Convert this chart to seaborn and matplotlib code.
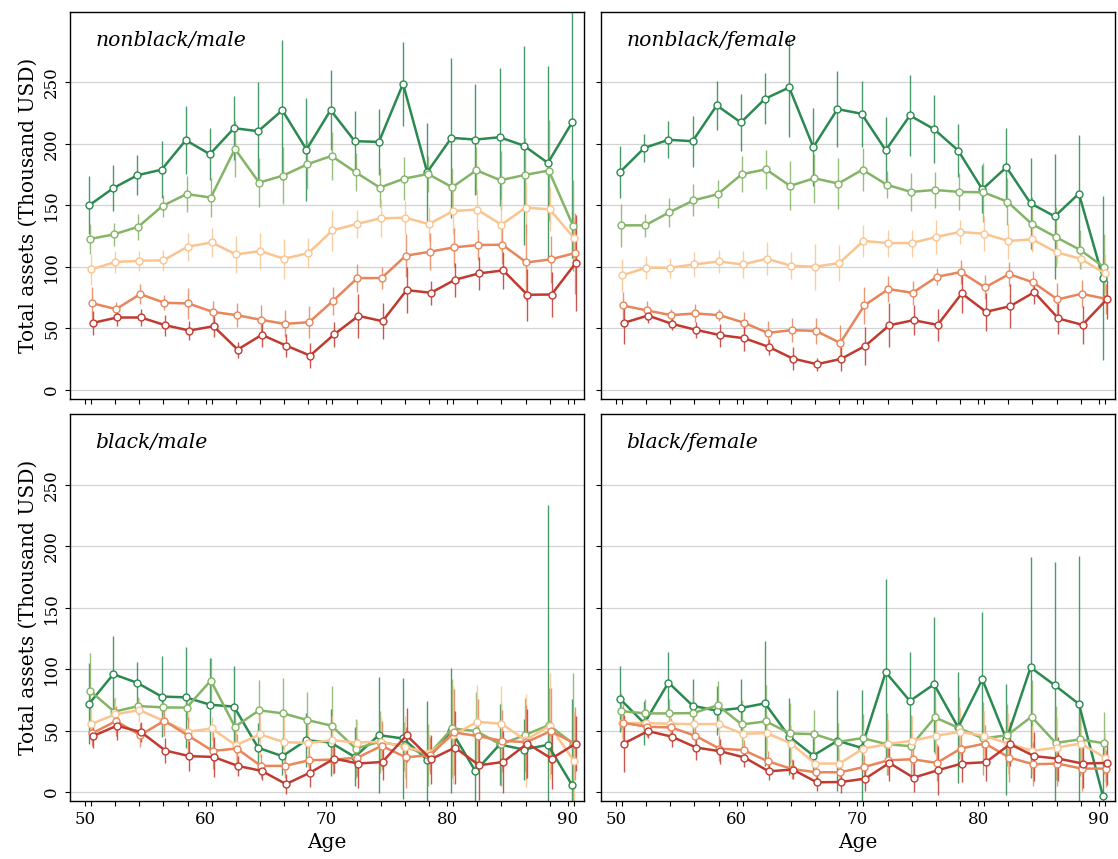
import numpy as np
import pandas as pd
import matplotlib
matplotlib.use("Agg")
import matplotlib.pyplot as plt
import seaborn as sns

# age groups (bin centres) and small dodge per group
ages = np.arange(50.5, 91, 2.0)
groups = ["g1", "g2", "g3", "g4", "g5"]
colors = ["#2b8a50", "#84b466", "#fbc48e", "#e8855a", "#c13a30"]
offsets = [-0.15, -0.075, 0.0, 0.075, 0.15]
panels = ["nonblack/male", "nonblack/female", "black/male", "black/female"]

# ---- nonblack / male
nbm_g1 = [150, 164, 174.5, 179, 203, 191.6, 212.8, 210.3, 227.4, 195.4, 227.5, 202.2, 201.6, 248.9, 176.9, 204.9, 203.5, 205.4, 198.6, 184.5, 217.4]
nbm_g2 = [122.6, 126.4, 132.6, 149.5, 159.2, 156.3, 195.9, 168.5, 174.2, 183.4, 190.2, 176.9, 164.4, 171.7, 175.5, 164.7, 178.5, 170.4, 174.7, 178.3, 133.4]
nbm_g3 = [97.8, 103.8, 104.9, 105.2, 116.3, 119.8, 110, 112.8, 106.5, 111.1, 129.6, 134.8, 139.4, 139.9, 134.8, 145.4, 146.5, 134.2, 148.1, 146.7, 123.4]
nbm_g4 = [70.4, 65.5, 77.7, 70.7, 70.1, 63.3, 60.6, 56.8, 53.5, 54.9, 72.5, 90.8, 90.8, 109, 112.2, 115.8, 117.7, 117.9, 103.5, 106, 111.1]
nbm_g5 = [54.3, 58.7, 58.7, 52.4, 48.1, 51.6, 32.6, 44.6, 35.9, 27.7, 45, 60, 55.7, 81, 78.8, 89.4, 94.6, 97, 77.2, 77.4, 103]
nbm_e1 = [23.6, 18.8, 16.3, 23, 27.7, 21, 26, 40, 57, 42, 32.3, 24.5, 26.6, 34, 40, 65, 45, 56, 81, 79, 110]
nbm_e2 = [12.5, 9.5, 10.6, 8.7, 14.7, 16, 22.5, 19.6, 23, 20, 19.6, 15.6, 16, 17.7, 15, 16, 19, 24, 30, 41, 37]
nbm_e3 = [12.8, 8.7, 8, 8.7, 11.4, 11.7, 14.7, 14.4, 16.3, 12.5, 16.6, 11, 15.4, 13.5, 14, 19, 17, 21, 21, 18, 17]
nbm_e4 = [13, 5.7, 8.4, 6, 12.8, 9.2, 10, 12.2, 11, 12.8, 11.4, 11.7, 9, 17.6, 15, 16, 12, 16, 31, 19, 33]
nbm_e5 = [10, 7, 7, 8.7, 8, 8.7, 6.5, 10.3, 9, 10.3, 10, 18, 14.5, 19, 10, 14, 13.6, 15, 21, 18.6, 39]

# ---- nonblack / female
nbf_g1 = [177.2, 196.7, 203.3, 202.2, 231.3, 217.4, 236.7, 245.9, 197.3, 228.3, 224.5, 194.8, 223.1, 212, 194.6, 163, 181, 151.6, 141, 159.5, 90.8]
nbf_g2 = [133.7, 133.7, 144.3, 154, 159, 175.3, 179.3, 165.8, 172, 167.7, 179, 166.8, 160.9, 162.5, 160.9, 160.6, 153, 135, 124.2, 113.9, 99.7]
nbf_g3 = [92.9, 99.2, 99.2, 101.9, 104.3, 101.9, 106.5, 100.8, 100, 103, 121, 119.3, 119.3, 124.2, 128.3, 126.9, 121, 122.3, 111.7, 106.5, 94.6]
nbf_g4 = [68.5, 64.4, 60.6, 62, 60.6, 54.6, 46.2, 48.4, 47.8, 38, 68.5, 81.8, 78.8, 91.8, 95.7, 83.2, 94, 87.2, 73.4, 78, 73.9]
nbf_g5 = [54.3, 60.3, 53.5, 48.6, 44.3, 41.8, 34.8, 25.3, 20.7, 25, 35.6, 52.4, 56.5, 52.7, 78.3, 63.3, 67.9, 79.3, 57.9, 52.7, 73.4]
nbf_e1 = [21.3, 11.7, 15.2, 20.7, 19.8, 22.8, 20.7, 40, 31.5, 31, 27, 27, 32.6, 27.7, 21.5, 19.6, 32, 37, 51, 48, 67]
nbf_e2 = [17.4, 9.2, 12, 13, 11.4, 14.7, 16, 20, 20, 21, 17.6, 11, 15.8, 15, 15, 24, 19, 21.7, 24.5, 16, 27]
nbf_e3 = [13.6, 9.2, 8.2, 10, 9.5, 11, 13.3, 11, 18.8, 14.4, 12.8, 11, 11, 13.6, 9.5, 14, 14.7, 10, 8.4, 8, 15.8]
nbf_e4 = [10.9, 7.6, 5, 7.3, 5, 8.4, 10, 10, 10.6, 14.7, 15, 10.3, 10, 7, 9.5, 9.8, 10, 9.5, 13, 11, 12]
nbf_e5 = [17, 6, 5, 6.8, 9.5, 10.6, 6.5, 9.2, 5.4, 9.5, 15.5, 17.7, 12, 13, 16, 15.5, 18, 10, 12.8, 15.5, 16]

# ---- black / male
bm_g1 = [71.9, 95.9, 88.8, 77.7, 77.1, 71.1, 69.5, 36, 29.2, 42.2, 40.3, 28.6, 46.3, 43.6, 26.4, 50, 16.9, 38.7, 34.6, 38.4, 5.7]
bm_g2 = [82.3, 65.4, 70, 68.9, 68.7, 90.7, 53.1, 66.5, 64, 58.6, 54, 35.4, 40.9, 37.3, 30, 51.8, 49.6, 38.7, 46.3, 54.5, 39.5]
bm_g3 = [55.3, 63.2, 66.8, 58, 49, 51.8, 38.1, 46.9, 40.6, 40, 42.2, 40.3, 40.9, 36.8, 31.9, 46.3, 57.2, 55.6, 42.2, 54, 25.3]
bm_g4 = [47.7, 57.8, 46.3, 58, 45.8, 33.5, 35.4, 21.3, 21.3, 25.9, 26.4, 28, 37.6, 28.3, 30, 48.5, 45.5, 41.7, 40.6, 49.6, 39.5]
bm_g5 = [45.5, 54, 48.8, 33.8, 29.2, 28.6, 21.3, 17.2, 6.5, 15.8, 27.2, 23.2, 24.5, 46.3, 26.7, 36.2, 21.8, 24.5, 39.5, 27.2, 39.5]
bm_e1 = [33, 31, 17, 33, 41, 38, 33, 20, 15, 22, 27, 24, 47, 49, 48, 51, 35, 33, 25, 195, 70]
bm_e2 = [31, 11, 7.6, 10, 10, 18, 15, 25, 29, 23, 32, 24, 25, 20, 25, 40, 32, 34, 30, 30, 57]
bm_e3 = [14, 14.4, 10, 10, 15, 9.5, 15, 18, 25, 20, 20, 18, 20, 25, 15, 40, 30, 31, 38, 43, 40]
bm_e4 = [10, 12, 10, 12, 15, 15, 12, 10, 10, 12, 12, 15, 20, 25, 15, 35, 30, 25, 30, 35, 30]
bm_e5 = [10, 12, 8, 10, 12, 16, 8, 7, 8, 12, 12, 20, 15, 22, 20, 30, 28, 25, 28, 25, 22]

# ---- black / female
bf_g1 = [75.7, 55.9, 89.1, 70.3, 66.2, 68.4, 72.2, 45.2, 29.7, 41.7, 36, 97.5, 74.1, 87.7, 52.6, 91.8, 42.8, 101.4, 86.9, 71.7, -3.5]
bf_g2 = [65.9, 64, 64, 64.3, 70.6, 55, 57.5, 47.7, 47.1, 40.9, 43.9, 39, 37.3, 60.8, 52, 43.6, 46.3, 61.3, 40, 42.8, 39.8]
bf_g3 = [56.1, 56.1, 55.6, 55.3, 55.3, 47.4, 48, 39.5, 23.2, 23.2, 35.4, 39, 41.7, 45.8, 49, 45.8, 39.5, 33.5, 36.2, 39.5, 28.1]
bf_g4 = [56.4, 53.1, 52.6, 45.8, 35.4, 34.1, 25.1, 18.8, 16.1, 16.1, 20.4, 25.9, 26.7, 23.7, 35.4, 39.5, 28.1, 22.6, 23.2, 19.1, 19.1]
bf_g5 = [39.5, 49.6, 45, 36.2, 33.2, 28.1, 16.9, 18.3, 7.9, 8.2, 10.9, 23.7, 11.7, 17.7, 23.2, 24.3, 39, 29.2, 27.2, 23.2, 23.7]
bf_e1 = [27, 18, 24.5, 22, 20, 24, 51, 31, 14, 41, 47, 76, 40, 55, 45, 55, 45, 90, 100, 120, 40]
bf_e2 = [15, 12, 12, 15, 20, 20, 30, 25, 20, 15, 20, 25, 25, 30, 25, 30, 25, 30, 30, 30, 25]
bf_e3 = [12, 10, 10, 10, 12, 12, 15, 15, 10, 12, 15, 20, 20, 20, 20, 20, 25, 20, 25, 25, 20]
bf_e4 = [15, 8, 8, 10, 10, 8, 8, 8, 8, 10, 10, 12, 12, 15, 15, 15, 20, 18, 18, 18, 15]
bf_e5 = [23, 6, 8, 10, 10, 8, 7, 8, 7, 9, 10, 15, 12, 20, 15, 15, 18, 20, 18, 20, 18]

means = [
    [nbm_g1, nbm_g2, nbm_g3, nbm_g4, nbm_g5],
    [nbf_g1, nbf_g2, nbf_g3, nbf_g4, nbf_g5],
    [bm_g1, bm_g2, bm_g3, bm_g4, bm_g5],
    [bf_g1, bf_g2, bf_g3, bf_g4, bf_g5],
]
errs = [
    [nbm_e1, nbm_e2, nbm_e3, nbm_e4, nbm_e5],
    [nbf_e1, nbf_e2, nbf_e3, nbf_e4, nbf_e5],
    [bm_e1, bm_e2, bm_e3, bm_e4, bm_e5],
    [bf_e1, bf_e2, bf_e3, bf_e4, bf_e5],
]

sns.set_style("ticks")
plt.rcParams["font.family"] = ["DejaVu Serif"]
plt.rcParams["text.color"] = "black"
plt.rcParams["axes.labelcolor"] = "black"
plt.rcParams["xtick.color"] = "black"
plt.rcParams["ytick.color"] = "black"
plt.rcParams["axes.edgecolor"] = "black"

fig, axes = plt.subplots(2, 2, figsize=(11.18, 8.59), dpi=100, sharex=True, sharey=True)
fig.subplots_adjust(left=0.0626, right=0.9973, top=0.986, bottom=0.0675, wspace=0.033, hspace=0.041)

for k, ax in enumerate(axes.flat):
    rows = []
    for g, name in enumerate(groups):
        x = ages + offsets[g]
        m = np.array(means[k][g])
        e = np.array(errs[k][g])
        ax.vlines(x, m - e, m + e, color=colors[g], lw=1.0, alpha=0.85, zorder=2)
        rows.append(pd.DataFrame({"age": x, "assets": m, "group": name}))
    df = pd.concat(rows)
    sns.lineplot(data=df, x="age", y="assets", hue="group", palette=colors,
                 marker="o", markersize=5, markerfacecolor="white",
                 markeredgewidth=1.0, lw=1.8, errorbar=None, legend=False,
                 ax=ax, zorder=3)
    # markers edges take line colour
    for line, c in zip(ax.get_lines(), colors):
        line.set_markeredgecolor(c)
    ax.set_xlim(48.76, 91.34)
    ax.set_ylim(-7.3, 307.3)
    ax.set_xticks([50, 60, 70, 80, 90])
    ax.set_xticks(ages, minor=True)
    ax.tick_params(axis="x", which="minor", length=3.5, width=0.8)
    ax.tick_params(axis="both", which="major", length=3.5, width=0.8, labelsize=12)
    ax.set_yticks([0, 50, 100, 150, 200, 250])
    for lab in ax.get_yticklabels():
        lab.set_rotation(90)
        lab.set_va("center")
    ax.yaxis.grid(True, color="#d3d3d3", lw=0.9)
    ax.set_axisbelow(True)
    for sp in ax.spines.values():
        sp.set_visible(True)
        sp.set_linewidth(1.0)
    ax.text(0.049, 0.927, panels[k], transform=ax.transAxes, style="italic",
            fontsize=14.7, va="center", ha="left")
    ax.set_xlabel("Age" if k >= 2 else "", fontsize=14.5)
    ax.set_ylabel("Total assets (Thousand USD)" if k % 2 == 0 else "", fontsize=14.5)

fig.savefig("out.png", dpi=100)
